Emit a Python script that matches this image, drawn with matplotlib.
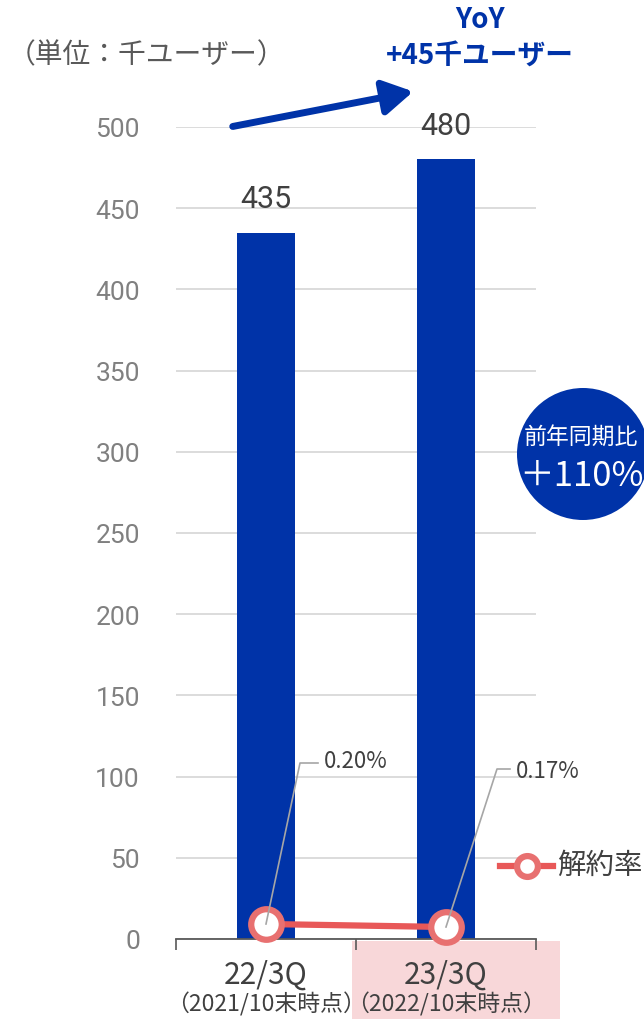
import matplotlib
matplotlib.use("Agg")
import matplotlib.pyplot as plt
from matplotlib.patches import Circle, Rectangle, FancyArrowPatch
from matplotlib.lines import Line2D

plt.rcParams['font.family'] = ['Noto Sans CJK JP', 'DejaVu Sans']

categories = ["22/3Q", "23/3Q"]
sublabels = ["（2021/10末時点）", "（2022/10末時点）"]
users = [435, 480]
churn = [0.20, 0.17]
churn_labels = ["0.20%", "0.17%"]
yticks = [0, 50, 100, 150, 200, 250, 300, 350, 400, 450, 500]

BLUE = '#0033a8'
RED = '#e85858'
GRAY = '#808080'
DARK = '#404040'

fig = plt.figure(figsize=(6.44, 10.2), dpi=100)
W, H = 644, 1020
ax = fig.add_axes([176 / W, 80 / H, 360 / W, 812 / H])

x = list(range(len(categories)))
ax.bar(x, users, width=0.32, color=BLUE, zorder=2)
for xi, v in zip(x, users):
    ax.text(xi, v + 12, str(v), ha='center', va='bottom', fontsize=22,
            color=DARK, family=['Roboto', 'DejaVu Sans'])

ax.set_xlim(-0.5, 1.5)
ax.set_ylim(0, 500)
ax.set_yticks(yticks)
ax.set_yticklabels([str(t) for t in yticks], fontsize=19, color=GRAY,
                   family=['Roboto', 'DejaVu Sans'])
ax.tick_params(axis='y', length=0, pad=26)
ax.set_xticks([-0.5, 0.5, 1.5])
ax.set_xticklabels([])
ax.tick_params(axis='x', length=8, width=1.2, color='#595959', direction='out')
ax.grid(axis='y', color='#d9d9d9', linewidth=1.3, zorder=0)
for s in ['left', 'right', 'top']:
    ax.spines[s].set_visible(False)
ax.spines['bottom'].set_color('#595959')
ax.spines['bottom'].set_linewidth(1.3)
ax.set_axisbelow(True)

# churn rate on hidden secondary axis
ax2 = ax.twinx()
ax2.set_ylim(0.05, 8.17)
ax2.axis('off')
ax2.plot(x, churn, color=RED, linewidth=4.5, marker='o', markersize=22,
         markerfacecolor='white', markeredgecolor='#e87070',
         markeredgewidth=4.5, zorder=5, clip_on=False)

# data labels with leader lines
label_pos = [(324, 762), (516, 772)]
elbow = [(300, 764), (497, 770)]
for xi, c, lab, (lx, ly), (ex, ey) in zip(x, churn, churn_labels, label_pos, elbow):
    px, py = ax2.transData.transform((xi, c))
    fig.add_artist(Line2D([px / W, ex / W, (lx - 6) / W],
                          [py / H, 1 - ey / H, 1 - ey / H],
                          color='#a6a6a6', linewidth=1.2, zorder=6))
    fig.text(lx / W, 1 - ly / H, lab, ha='left', va='center', fontsize=16,
             color=DARK)

# legend
fig.add_artist(Line2D([500 / W, 526.5 / W, 553 / W], [1 - 867 / H] * 3,
                      color=RED, linewidth=4.5, marker='o', markersize=15,
                      markevery=[1], markerfacecolor='white',
                      markeredgecolor='#e87070', markeredgewidth=4.5))
fig.text(557 / W, 1 - 866 / H, "解約率", ha='left', va='center', fontsize=20.5,
         color=DARK)

# category labels and highlight box
fig.add_artist(Rectangle((352 / W, 0), 208 / W, 78 / H, transform=fig.transFigure,
                         facecolor='#f8d7d9', edgecolor='none', zorder=0))
for xi, cat, sub in zip(x, categories, sublabels):
    px = ax.transData.transform((xi, 0))[0]
    fig.text(px / W, 1 - 975 / H, cat, ha='center', va='center', fontsize=21.5,
             color=DARK)
    fig.text(px / W, 1 - 1004 / H, sub, ha='center', va='center', fontsize=16.5,
             color=DARK)

# unit and YoY annotation
fig.text(8 / W, 1 - 55 / H, "（単位：千ユーザー）", ha='left', va='center',
         fontsize=20, color='#595959')
fig.text(480 / W, 1 - 20 / H, "YoY", ha='center', va='center', fontsize=20,
         color=BLUE, fontweight='bold')
fig.text(480 / W, 1 - 57 / H, "+45千ユーザー", ha='center', va='center', fontsize=20,
         color=BLUE, fontweight='bold')
fig.add_artist(FancyArrowPatch(
    (230 / W, 1 - 128 / H), (416 / W, 1 - 92 / H), transform=fig.transFigure,
    arrowstyle='-|>,head_length=12,head_width=7', mutation_scale=1.5,
    color=BLUE, linewidth=5))

# YoY circle
circ = Circle((5.83, (H - 455) / 100), 0.66, transform=fig.dpi_scale_trans,
              facecolor=BLUE, edgecolor='none')
fig.add_artist(circ)
fig.text(581 / W, 1 - 437 / H, "前年同期比", ha='center', va='center',
         fontsize=16.5, color='white')
fig.text(581 / W, 1 - 476 / H, "＋110%", ha='center', va='center',
         fontsize=25, color='white')

fig.savefig("out.png", dpi=100)
